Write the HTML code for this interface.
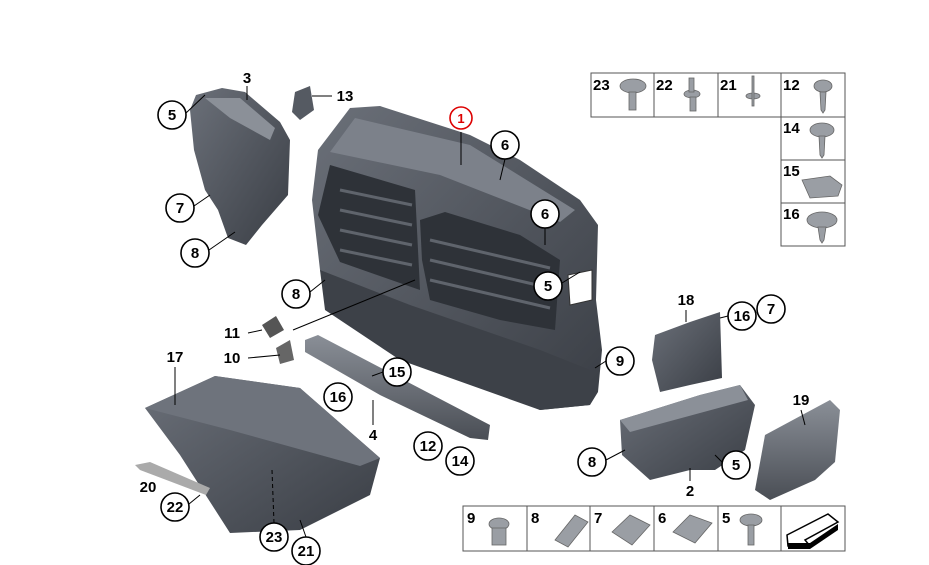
<!DOCTYPE html>
<html><head><meta charset="utf-8"><style>
html,body{margin:0;padding:0;background:#fff;}
svg{display:block;font-family:"Liberation Sans",Arial,sans-serif;font-weight:bold;}
</style></head><body>
<svg width="929" height="565" viewBox="0 0 929 565" xmlns="http://www.w3.org/2000/svg">
<defs>
<linearGradient id="g" x1="0" y1="0" x2="1" y2="1"><stop offset="0" stop-color="#6b7079"/><stop offset="1" stop-color="#3a3e45"/></linearGradient>
<linearGradient id="g2" x1="0" y1="0" x2="0" y2="1"><stop offset="0" stop-color="#8a8f97"/><stop offset="1" stop-color="#4a4e55"/></linearGradient>
</defs>
<!-- part 3 -->
<polygon points="196,95 222,88 245,92 280,122 290,140 288,195 262,225 246,245 228,238 218,210 205,190 194,150 190,110" fill="url(#g)"/>
<polygon points="205,98 240,98 275,128 270,140 230,118" fill="#8b9098"/>
<polygon points="295,92 310,86 314,110 300,120 292,112" fill="#555a62"/>
<!-- main part 1 -->
<polygon points="318,150 350,108 380,106 470,135 520,160 580,200 598,225 596,300 602,350 598,392 590,405 540,410 470,380 400,355 330,310 320,270 312,200" fill="url(#g)"/>
<polygon points="330,152 355,118 470,145 575,210 560,222 440,175" fill="#7c818a"/>
<polygon points="330,165 415,190 420,290 340,262 318,215" fill="#2e3238"/>
<polygon points="420,220 445,212 520,235 560,260 555,330 500,320 430,300 422,260" fill="#2e3238"/>
<g stroke="#5f646c" stroke-width="3">
<line x1="340" y1="190" x2="412" y2="205"/><line x1="340" y1="210" x2="412" y2="225"/><line x1="340" y1="230" x2="412" y2="245"/><line x1="340" y1="250" x2="412" y2="265"/>
<line x1="430" y1="240" x2="550" y2="268"/><line x1="430" y1="260" x2="550" y2="288"/><line x1="430" y1="280" x2="550" y2="308"/>
</g>
<polygon points="320,270 410,305 540,350 590,370 590,405 540,410 400,360 325,310" fill="#3d4148"/>
<polygon points="568,275 592,270 592,300 570,305" fill="#fff" stroke="#333"/>
<!-- part 4 -->
<polygon points="305,340 318,335 400,378 490,425 488,440 470,438 380,395 305,352" fill="url(#g2)"/>
<!-- 11, 10 -->
<polygon points="262,325 276,316 284,330 270,338" fill="#555"/>
<polygon points="276,348 290,340 294,360 280,364" fill="#666"/>
<!-- part 17 -->
<polygon points="145,408 215,376 300,388 380,458 370,495 300,530 230,533 180,455" fill="url(#g)"/>
<polygon points="145,408 215,376 300,388 380,458 360,466 230,430" fill="#6e737c"/>
<polygon points="135,465 150,462 210,488 206,495 140,470" fill="#aaa"/>
<!-- part 18 -->
<polygon points="655,335 690,322 720,312 722,378 690,385 660,392 652,360" fill="url(#g)"/>
<!-- part 2 -->
<polygon points="620,420 700,395 740,385 755,405 745,450 715,470 690,470 650,480 622,455" fill="url(#g)"/>
<polygon points="620,420 700,395 740,385 748,400 700,413 630,432" fill="#8b9098"/>
<!-- part 19 -->
<polygon points="765,435 830,400 840,410 835,462 815,480 770,500 755,490" fill="url(#g2)"/>
<!-- leader lines -->
<g stroke="#000" stroke-width="1" fill="none">
<line x1="186" y1="113" x2="205" y2="95"/><line x1="247" y1="86" x2="247" y2="100"/><line x1="332" y1="96" x2="312" y2="96"/>
<line x1="461" y1="132" x2="461" y2="165"/><line x1="505" y1="159" x2="500" y2="180"/><line x1="545" y1="228" x2="545" y2="245"/>
<line x1="194" y1="206" x2="210" y2="195"/><line x1="209" y1="250" x2="235" y2="232"/><line x1="562" y1="283" x2="580" y2="272"/>
<line x1="310" y1="292" x2="325" y2="280"/><line x1="248" y1="333" x2="262" y2="330"/><line x1="248" y1="358" x2="280" y2="355"/>
<line x1="175" y1="367" x2="175" y2="405"/><line x1="293" y1="330" x2="415" y2="280"/><line x1="383" y1="372" x2="372" y2="376"/>
<line x1="373" y1="425" x2="373" y2="400"/><line x1="686" y1="310" x2="686" y2="322"/><line x1="728" y1="316" x2="720" y2="318"/>
<line x1="606" y1="361" x2="595" y2="368"/><line x1="801" y1="410" x2="805" y2="425"/><line x1="606" y1="460" x2="625" y2="450"/>
<line x1="722" y1="462" x2="715" y2="455"/><line x1="690" y1="481" x2="690" y2="468"/><line x1="189" y1="504" x2="200" y2="495"/>
<line x1="274" y1="523" x2="272" y2="470" stroke-dasharray="4,3"/><line x1="306" y1="537" x2="300" y2="520"/>
</g>
<!-- circles -->
<g fill="#fff" stroke="#000" stroke-width="1.6">
<circle cx="172" cy="115" r="14"/><circle cx="505" cy="145" r="14"/><circle cx="545" cy="214" r="14"/>
<circle cx="180" cy="208" r="14"/><circle cx="195" cy="253" r="14"/><circle cx="548" cy="286" r="14"/>
<circle cx="296" cy="294" r="14"/><circle cx="397" cy="372" r="14"/><circle cx="338" cy="397" r="14"/>
<circle cx="428" cy="446" r="14"/><circle cx="460" cy="461" r="14"/><circle cx="742" cy="316" r="14"/>
<circle cx="771" cy="309" r="14"/><circle cx="620" cy="361" r="14"/><circle cx="592" cy="462" r="14"/>
<circle cx="736" cy="465" r="14"/><circle cx="175" cy="507" r="14"/><circle cx="274" cy="537" r="14"/>
<circle cx="306" cy="551" r="14"/>
<circle cx="461" cy="118" r="11" stroke="#d00"/>
</g>
<g font-size="15" text-anchor="middle" fill="#000">
<text x="172" y="120">5</text><text x="505" y="150">6</text><text x="545" y="219">6</text>
<text x="180" y="213">7</text><text x="195" y="258">8</text><text x="548" y="291">5</text>
<text x="296" y="299">8</text><text x="397" y="377">15</text><text x="338" y="402">16</text>
<text x="428" y="451">12</text><text x="460" y="466">14</text><text x="742" y="321">16</text>
<text x="771" y="314">7</text><text x="620" y="366">9</text><text x="592" y="467">8</text>
<text x="736" y="470">5</text><text x="175" y="512">22</text><text x="274" y="542">23</text>
<text x="306" y="556">21</text><text x="461" y="123" fill="#d00" font-size="13">1</text>
<text x="247" y="83">3</text><text x="345" y="101">13</text><text x="232" y="338">11</text>
<text x="232" y="363">10</text><text x="175" y="362">17</text><text x="373" y="440">4</text>
<text x="686" y="305">18</text><text x="801" y="405">19</text><text x="690" y="496">2</text>
<text x="148" y="492">20</text>
</g>
<!-- top-right table -->
<g fill="none" stroke="#555" stroke-width="1">
<rect x="591" y="73" width="254" height="44"/><line x1="654" y1="73" x2="654" y2="117"/><line x1="718" y1="73" x2="718" y2="117"/><line x1="781" y1="73" x2="781" y2="117"/>
<rect x="781" y="117" width="64" height="129"/><line x1="781" y1="160" x2="845" y2="160"/><line x1="781" y1="203" x2="845" y2="203"/>
<rect x="463" y="506" width="382" height="45"/>
<line x1="527" y1="506" x2="527" y2="551"/><line x1="590" y1="506" x2="590" y2="551"/><line x1="654" y1="506" x2="654" y2="551"/><line x1="718" y1="506" x2="718" y2="551"/><line x1="781" y1="506" x2="781" y2="551"/>
</g>
<g font-size="15" fill="#000">
<text x="593" y="90">23</text><text x="656" y="90">22</text><text x="720" y="90">21</text><text x="783" y="90">12</text>
<text x="783" y="133">14</text><text x="783" y="176">15</text><text x="783" y="219">16</text>
<text x="467" y="523">9</text><text x="531" y="523">8</text><text x="594" y="523">7</text><text x="658" y="523">6</text><text x="722" y="523">5</text>
</g>
<!-- fastener icons -->
<g fill="#9a9ea4" stroke="#666" stroke-width="0.8">
<ellipse cx="633" cy="86" rx="13" ry="7"/><rect x="629" y="92" width="7" height="18"/>
<ellipse cx="692" cy="94" rx="8" ry="4"/><rect x="689" y="78" width="5" height="14"/><rect x="690" y="97" width="6" height="14"/>
<ellipse cx="753" cy="96" rx="7" ry="3"/><rect x="752" y="76" width="2" height="30"/>
<ellipse cx="823" cy="86" rx="9" ry="6"/><polygon points="820,92 826,92 825,110 823,113 821,110"/>
<ellipse cx="822" cy="130" rx="12" ry="7"/><polygon points="819,136 825,136 824,155 822,158 820,155"/>
<polygon points="802,180 830,176 842,185 838,196 810,198"/>
<ellipse cx="822" cy="220" rx="15" ry="8"/><polygon points="818,227 826,227 824,240 822,243 820,240"/>
<ellipse cx="499" cy="524" rx="10" ry="6"/><rect x="492" y="528" width="14" height="17"/>
<polygon points="555,540 575,515 588,522 568,547"/>
<polygon points="612,532 630,515 650,525 632,545"/>
<polygon points="673,532 690,515 712,523 695,543"/>
<ellipse cx="751" cy="520" rx="11" ry="6"/><rect x="748" y="525" width="6" height="20"/>
</g>
<polygon points="787,535 828,514 838,522 805,540 810,546 788,546" fill="#fff" stroke="#000" stroke-width="1.5"/>
<polygon points="788,543 810,543 838,524 838,530 810,549 788,549" fill="#000"/>
</svg>
</body></html>
